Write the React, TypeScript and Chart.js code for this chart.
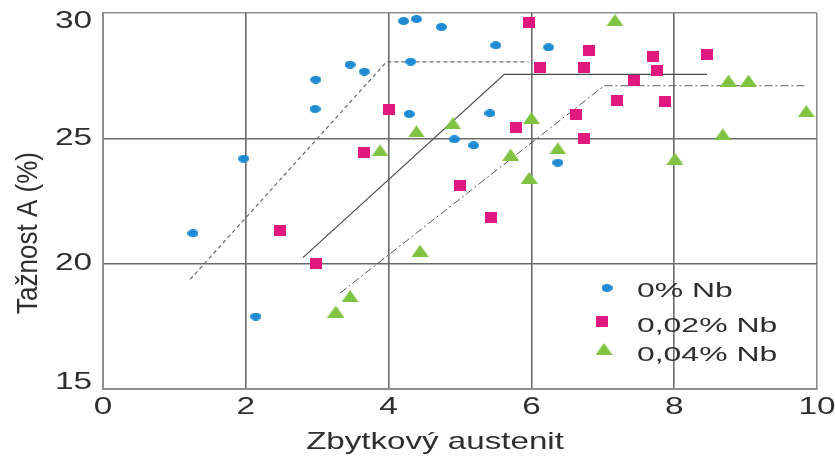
import { useEffect, useRef } from 'react';
import { Chart, registerables } from 'chart.js';

Chart.register(...registerables);

// Retained austenite (%) vs. elongation A (%) for three Nb contents
const noNbX = [4.21, 4.39, 4.74, 3.46, 3.66, 2.98, 4.31, 2.97, 4.29, 4.92, 1.97, 5.5, 6.24, 5.42, 5.19, 6.37, 1.26, 2.14];
const noNbY = [29.68, 29.76, 29.44, 27.94, 27.66, 27.34, 28.06, 26.17, 25.97, 24.96, 24.19, 28.71, 28.63, 26.0, 24.72, 24.03, 21.21, 17.89];

const nb002X = [4.0, 3.66, 5.0, 5.96, 6.8, 7.7, 8.46, 6.12, 6.73, 7.76, 7.44, 7.2, 7.87, 6.62, 5.79, 6.74, 2.48, 2.98, 5.44];
const nb002Y = [26.17, 24.44, 23.1, 29.64, 28.5, 28.27, 28.35, 27.82, 27.82, 27.7, 27.3, 26.49, 26.45, 25.97, 25.44, 25.0, 21.33, 20.0, 21.85];

const nb004X = [4.39, 3.88, 4.9, 7.17, 8.76, 9.04, 9.85, 8.68, 6.0, 5.71, 6.37, 8.01, 5.97, 4.44, 3.46, 3.26];
const nb004Y = [25.28, 24.52, 25.6, 29.72, 27.3, 27.3, 26.09, 25.16, 25.81, 24.35, 24.6, 24.19, 23.43, 20.52, 18.71, 18.09];

// Trend envelopes (rising part, then plateau)
const trendNoNbX = [1.22, 3.97, 5.96];
const trendNoNbY = [19.37, 28.05, 28.05];
const trendNb002X = [2.8, 5.62, 8.46];
const trendNb002Y = [20.24, 27.55, 27.55];
const trendNb004X = [3.32, 7.02, 9.83];
const trendNb004Y = [18.83, 27.1, 27.1];

const seriesLabels = ['0% Nb', '0,02% Nb', '0,04% Nb'];
const xTitle = 'Zbytkový austenit';
const yTitle = 'Tažnost A (%)';

const BLUE = '#1f8bd3';
const MAGENTA = '#e0187f';
const GREEN = '#80c242';
const TEXT = '#2e2e2e';
const FONT = '"Liberation Sans", Arial, sans-serif';

const pts = (xs: number[], ys: number[]) => xs.map((x, i) => ({ x, y: ys[i] }));

function makeMarker(shape: 'ellipse' | 'rect' | 'triangle', color: string, w: number, h: number): HTMLCanvasElement {
  const c = document.createElement('canvas');
  c.width = w;
  c.height = h;
  const g = c.getContext('2d')!;
  g.fillStyle = color;
  g.beginPath();
  if (shape === 'ellipse') {
    g.ellipse(w / 2, h / 2, w / 2, h / 2, 0, 0, Math.PI * 2);
  } else if (shape === 'rect') {
    g.rect(0, 0, w, h);
  } else {
    g.moveTo(w / 2, 0);
    g.lineTo(w, h);
    g.lineTo(0, h);
    g.closePath();
  }
  g.fill();
  return c;
}

function drawText(
  ctx: CanvasRenderingContext2D,
  text: string,
  x: number,
  y: number,
  size: number,
  sx: number,
  align: CanvasTextAlign,
  baseline: CanvasTextBaseline = 'middle',
  rotate = 0,
) {
  ctx.save();
  ctx.translate(x, y);
  ctx.scale(sx, 1);
  if (rotate) ctx.rotate(rotate);
  ctx.font = `${size}px ${FONT}`;
  ctx.fillStyle = TEXT;
  ctx.textAlign = align;
  ctx.textBaseline = baseline;
  ctx.fillText(text, 0, 0);
  ctx.restore();
}

export default function App() {
  const ref = useRef<HTMLCanvasElement | null>(null);

  useEffect(() => {
    if (!ref.current) return;
    const markers = [
      makeMarker('ellipse', BLUE, 11, 8),
      makeMarker('rect', MAGENTA, 12, 11),
      makeMarker('triangle', GREEN, 17, 12),
    ];

    const textPlugin = {
      id: 'axisText',
      afterDraw(chart: any) {
        const ctx: CanvasRenderingContext2D = chart.ctx;
        const area = chart.chartArea;
        const xs = chart.scales.x;
        const ys = chart.scales.y;

        // y tick labels, kept inside the plot's height
        ys.ticks.forEach((t: any) => {
          const py = ys.getPixelForValue(t.value);
          const y = Math.min(Math.max(py, area.top + 9), area.bottom - 6);
          drawText(ctx, String(t.value), area.left - 11, y, 23, 1.45, 'right');
        });
        // x tick labels
        xs.ticks.forEach((t: any) => {
          const px = xs.getPixelForValue(t.value);
          drawText(ctx, String(t.value), px, area.bottom + 19, 23, 1.45, 'center');
        });

        // axis titles
        drawText(ctx, xTitle, (area.left + area.right) / 2 - 25, area.bottom + 60, 24, 1.38, 'center', 'alphabetic');
        drawText(ctx, yTitle, 29, (area.top + area.bottom) / 2 + 32, 26, 1.15, 'center', 'middle', -Math.PI / 2);

        // legend in the lower right of the plot
        const rows = [
          { my: 288, ty: 291 },
          { my: 321, ty: 326 },
          { my: 349, ty: 355 },
        ];
        const mx = [607, 602, 604];
        rows.forEach((r, i) => {
          const m = markers[i];
          ctx.drawImage(m, mx[i] - m.width / 2, r.my - m.height / 2);
          drawText(ctx, seriesLabels[i], 637, r.ty, 21, 1.52, 'left');
        });
      },
    };

    const gridColor = (edgeA: number, edgeB: number) => (c: any) =>
      c.tick && (c.tick.value === edgeA || c.tick.value === edgeB) ? '#8d8d8d' : '#6a6a6a';

    const chart = new Chart(ref.current, {
      type: 'scatter',
      data: {
        datasets: [
          {
            label: seriesLabels[0],
            data: pts(noNbX, noNbY),
            pointStyle: markers[0],
            pointRadius: 6,
            order: 0,
            clip: false,
          },
          {
            label: seriesLabels[1],
            data: pts(nb002X, nb002Y),
            pointStyle: markers[1],
            pointRadius: 6,
            order: 0,
            clip: false,
          },
          {
            label: seriesLabels[2],
            data: pts(nb004X, nb004Y),
            pointStyle: markers[2],
            pointRadius: 6,
            order: 0,
            clip: false,
          },
          {
            label: 'trend 0%',
            data: pts(trendNoNbX, trendNoNbY),
            showLine: true,
            pointRadius: 0,
            borderColor: '#6b6b6b',
            borderWidth: 1.2,
            borderDash: [4, 3],
            order: 1,
          },
          {
            label: 'trend 0,02%',
            data: pts(trendNb002X, trendNb002Y),
            showLine: true,
            pointRadius: 0,
            borderColor: '#4a4a4a',
            borderWidth: 1.2,
            order: 1,
          },
          {
            label: 'trend 0,04%',
            data: pts(trendNb004X, trendNb004Y),
            showLine: true,
            pointRadius: 0,
            borderColor: '#5a5a5a',
            borderWidth: 1,
            borderDash: [8, 3, 2, 3],
            order: 1,
          },
        ],
      },
      options: {
        responsive: true,
        maintainAspectRatio: false,
        animation: false,
        layout: { padding: { left: 103, right: 18, top: 13, bottom: 67 } },
        plugins: {
          legend: { display: false },
          tooltip: { enabled: false },
        },
        scales: {
          x: {
            type: 'linear',
            min: 0,
            max: 10,
            ticks: { stepSize: 2, display: false },
            grid: { color: gridColor(0, 10), lineWidth: 1.6, drawTicks: false },
            border: { display: true, color: '#8d8d8d', width: 2 },
            afterFit: (s: any) => {
              s.height = 0;
            },
          },
          y: {
            type: 'linear',
            min: 15,
            max: 30,
            ticks: { stepSize: 5, display: false },
            grid: { color: gridColor(15, 30), lineWidth: 1.6, drawTicks: false },
            border: { display: true, color: '#8d8d8d', width: 2 },
            afterFit: (s: any) => {
              s.width = 0;
            },
          },
        },
      },
      plugins: [textPlugin],
    } as any);

    return () => chart.destroy();
  }, []);

  return (
    <div style={{ position: 'fixed', left: 0, top: 0, width: 835, height: 456, background: '#ffffff' }}>
      <canvas ref={ref} />
    </div>
  );
}
